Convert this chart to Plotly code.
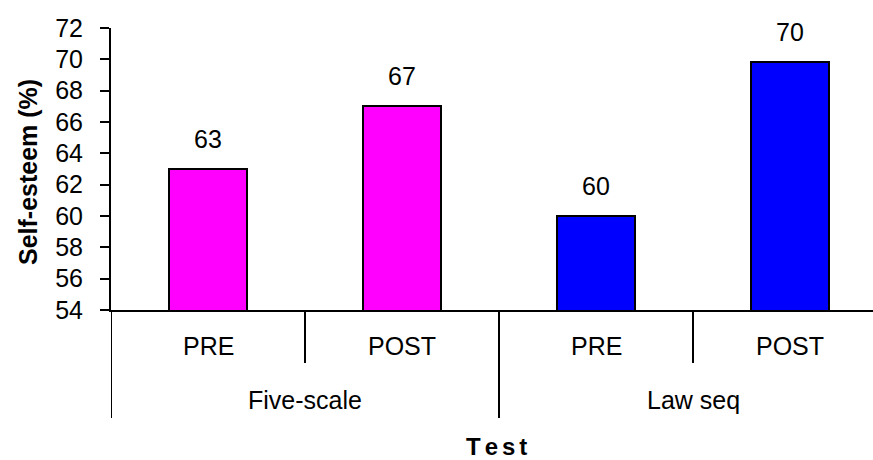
import plotly.graph_objects as go

groups = ["Five-scale", "Law seq"]
tests = ["PRE", "POST"]
values = [63, 67, 60, 69.8]
value_labels = ["63", "67", "60", "70"]
group_colors = ["#FF00FF", "#0000FF"]
y_ticks = list(range(54, 73, 2))

W, H = 873, 460
M_L, M_R, M_T, M_B = 111, 0, 28, 150
plot_h = H - M_T - M_B
plot_w = W - M_L - M_R
cat_px = 194.0

FONT = "Liberation Sans, Arial, sans-serif"
FS = 25

n = len(groups) * len(tests)
xs = list(range(n))
cat_labels = [t for g in groups for t in tests]
bar_colors = [group_colors[gi] for gi, g in enumerate(groups) for t in tests]

fig = go.Figure()
fig.add_trace(go.Bar(
    x=xs, y=values, width=0.4,
    marker=dict(color=bar_colors, line=dict(color="black", width=2)),
    hoverinfo="skip", showlegend=False,
))

annotations = []
for i, (v, lab) in enumerate(zip(values, value_labels)):
    annotations.append(dict(x=i, y=v, xref="x", yref="y", text=lab, showarrow=False,
                            yanchor="middle", yshift=30, font=dict(size=FS, color="black", family=FONT)))
for i, lab in enumerate(cat_labels):
    annotations.append(dict(x=i, y=0, xref="x", yref="paper", text=lab, showarrow=False,
                            yanchor="middle", yshift=-36, font=dict(size=FS, color="black", family=FONT)))
for gi, g in enumerate(groups):
    cx = gi * len(tests) + (len(tests) - 1) / 2
    annotations.append(dict(x=cx, y=0, xref="x", yref="paper", text=g, showarrow=False,
                            yanchor="middle", yshift=-90, font=dict(size=FS, color="black", family=FONT)))
annotations.append(dict(x=(n - 1) / 2, y=0, xref="x", yref="paper",
                        text="<b>T\u2006e\u2006s\u2006t</b>", showarrow=False, borderpad=0,
                        yanchor="middle", xshift=-3, yshift=-136, font=dict(size=24, color="black", family=FONT)))
annotations.append(dict(x=0, y=0.5, xref="paper", yref="paper", text="<b>Self-esteem (%)</b>", showarrow=False,
                        textangle=-90, xanchor="center", yanchor="middle", xshift=-83, yshift=-3,
                        font=dict(size=FS, color="black", family=FONT)))

shapes = []
short_y = -53 / plot_h
long_y = -108 / plot_h
for b in range(n):
    bx = b - 0.5
    y1 = long_y if b % len(tests) == 0 else short_y
    shapes.append(dict(type="line", xref="x", yref="paper", x0=bx, x1=bx, y0=0, y1=y1,
                       line=dict(color="black", width=2)))

fig.update_layout(
    width=W, height=H,
    margin=dict(l=M_L, r=M_R, t=M_T, b=M_B),
    plot_bgcolor="white", paper_bgcolor="white",
    font=dict(family=FONT, color="black"),
    annotations=annotations, shapes=shapes, bargap=0,
    xaxis=dict(range=[-0.5, -0.5 + plot_w / cat_px], showticklabels=False, ticks="",
               showline=True, linecolor="black", linewidth=2, showgrid=False, zeroline=False,
               fixedrange=True),
    yaxis=dict(range=[54, 72], tickvals=y_ticks, ticks="outside", ticklen=9, tickwidth=2,
               tickcolor="black", showline=True, linecolor="black", linewidth=2,
               showgrid=False, zeroline=False, ticklabelstandoff=12,
               tickfont=dict(size=FS, color="black", family=FONT), fixedrange=True),
)

fig.write_html("out.html", config={"displayModeBar": False},
               post_script="document.body.style.margin='0';document.body.style.overflow='hidden';")
